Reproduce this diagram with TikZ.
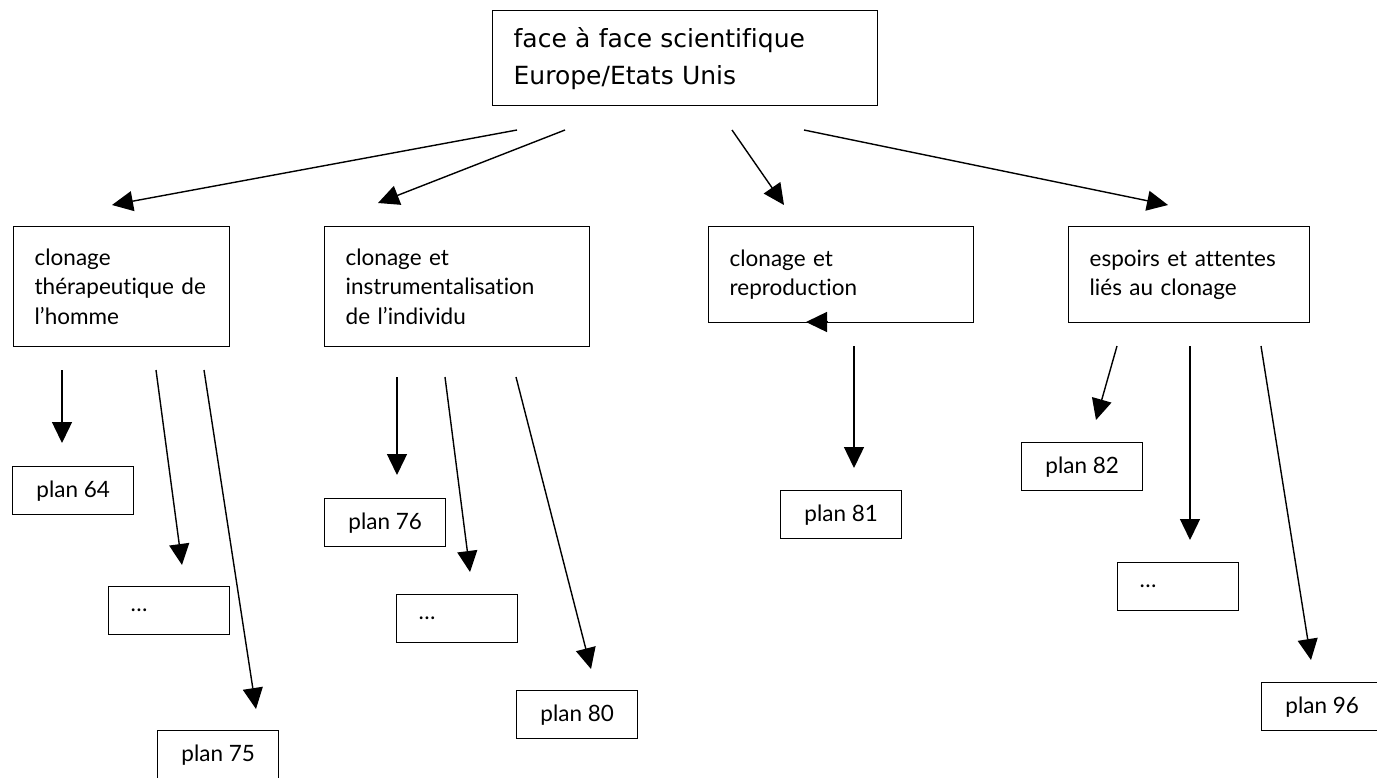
\documentclass[tikz,border=0pt]{standalone}
\usepackage{fontspec}
\setmainfont{Lato}[Ligatures=NoCommon]
\newfontfamily\topfont{DejaVu Sans}[Ligatures=NoCommon]
\usetikzlibrary{arrows.meta}

\begin{document}
\begin{tikzpicture}[x=1pt,y=-1pt,
  box/.style={draw,line width=1.3pt,anchor=north west,align=left,inner xsep=21pt,inner ysep=0pt,font=\fontsize{22.5}{29.5}\selectfont},
  leaf/.style={box,inner xsep=0pt,minimum width=121pt,minimum height=48pt},
  dots/.style={leaf,inner xsep=22pt,text width=77pt},
  arr/.style={line width=1.4pt,-{Triangle[length=21pt,width=20pt]}}]
  \useasboundingbox (0,0) rectangle (1377,777);

  \node[box,font=\topfont\fontsize{25}{37}\selectfont,text width=343pt,minimum height=95pt] (top) at (492,10) {face à face scientifique\\Europe/Etats Unis};

  \node[box,text width=174pt,minimum height=120pt] (therap) at (13,226) {clonage\\thérapeutique de\\l’homme};
  \node[box,text width=223pt,minimum height=120pt] (instru) at (324,226) {clonage et\\instrumentalisation\\de l’individu};
  \node[box,text width=223pt,minimum height=96pt] (repro) at (708,226) {clonage et\\reproduction};
  \node[box,text width=199pt,minimum height=96pt] (espoirs) at (1068,226) {espoirs et attentes\\liés au clonage};

  \node[leaf] (p64) at (12,466) {plan 64};
  \node[dots] (dots1) at (108,586) {…};
  \node[leaf] (p75) at (157,730) {plan 75};
  \node[leaf] (p76) at (324,498) {plan 76};
  \node[dots] (dots2) at (396,594) {…};
  \node[leaf] (p80) at (516,690) {plan 80};
  \node[leaf] (p81) at (780,490) {plan 81};
  \node[leaf] (p82) at (1021,442) {plan 82};
  \node[dots] (dots3) at (1117,562) {…};
  \node[leaf] (p96) at (1261,682) {plan 96};

  \coordinate (top1) at (517,130);
  \coordinate (top2) at (565,130);
  \coordinate (top3) at (732,130);
  \coordinate (top4) at (804,130);
  \coordinate (therapin) at (112,205);
  \coordinate (instruin) at (378,203);
  \coordinate (reproin) at (784,205);
  \coordinate (espoirsin) at (1168,205);

  \coordinate (therap1) at (62,370);
  \coordinate (therap2) at (156,370);
  \coordinate (therap3) at (204,370);
  \coordinate (p64in) at (62,443);
  \coordinate (dots1in) at (182,565);
  \coordinate (p75in) at (256,709);

  \coordinate (instru1) at (397,377);
  \coordinate (instru2) at (445,377);
  \coordinate (instru3) at (516,377);
  \coordinate (p76in) at (397,475);
  \coordinate (dots2in) at (470,572);
  \coordinate (p80in) at (591,669);

  \coordinate (repro0) at (828,322);
  \coordinate (repro0in) at (806,322);
  \coordinate (repro1) at (854,346);
  \coordinate (p81in) at (854,468);

  \coordinate (espoirs1) at (1117,346);
  \coordinate (espoirs2) at (1190,346);
  \coordinate (espoirs3) at (1261,346);
  \coordinate (p82in) at (1096,420);
  \coordinate (dots3in) at (1190,540);
  \coordinate (p96in) at (1311,660);

  \draw[arr] (top1) -- (therapin);
  \draw[arr] (top2) -- (instruin);
  \draw[arr] (top3) -- (reproin);
  \draw[arr] (top4) -- (espoirsin);

  \draw[arr] (therap1) -- (p64in);
  \draw[arr] (therap2) -- (dots1in);
  \draw[arr] (therap3) -- (p75in);
  \draw[arr] (instru1) -- (p76in);
  \draw[arr] (instru2) -- (dots2in);
  \draw[arr] (instru3) -- (p80in);
  \draw[arr] (repro0) -- (repro0in);
  \draw[arr] (repro1) -- (p81in);
  \draw[arr] (espoirs1) -- (p82in);
  \draw[arr] (espoirs2) -- (dots3in);
  \draw[arr] (espoirs3) -- (p96in);
\end{tikzpicture}
\end{document}
